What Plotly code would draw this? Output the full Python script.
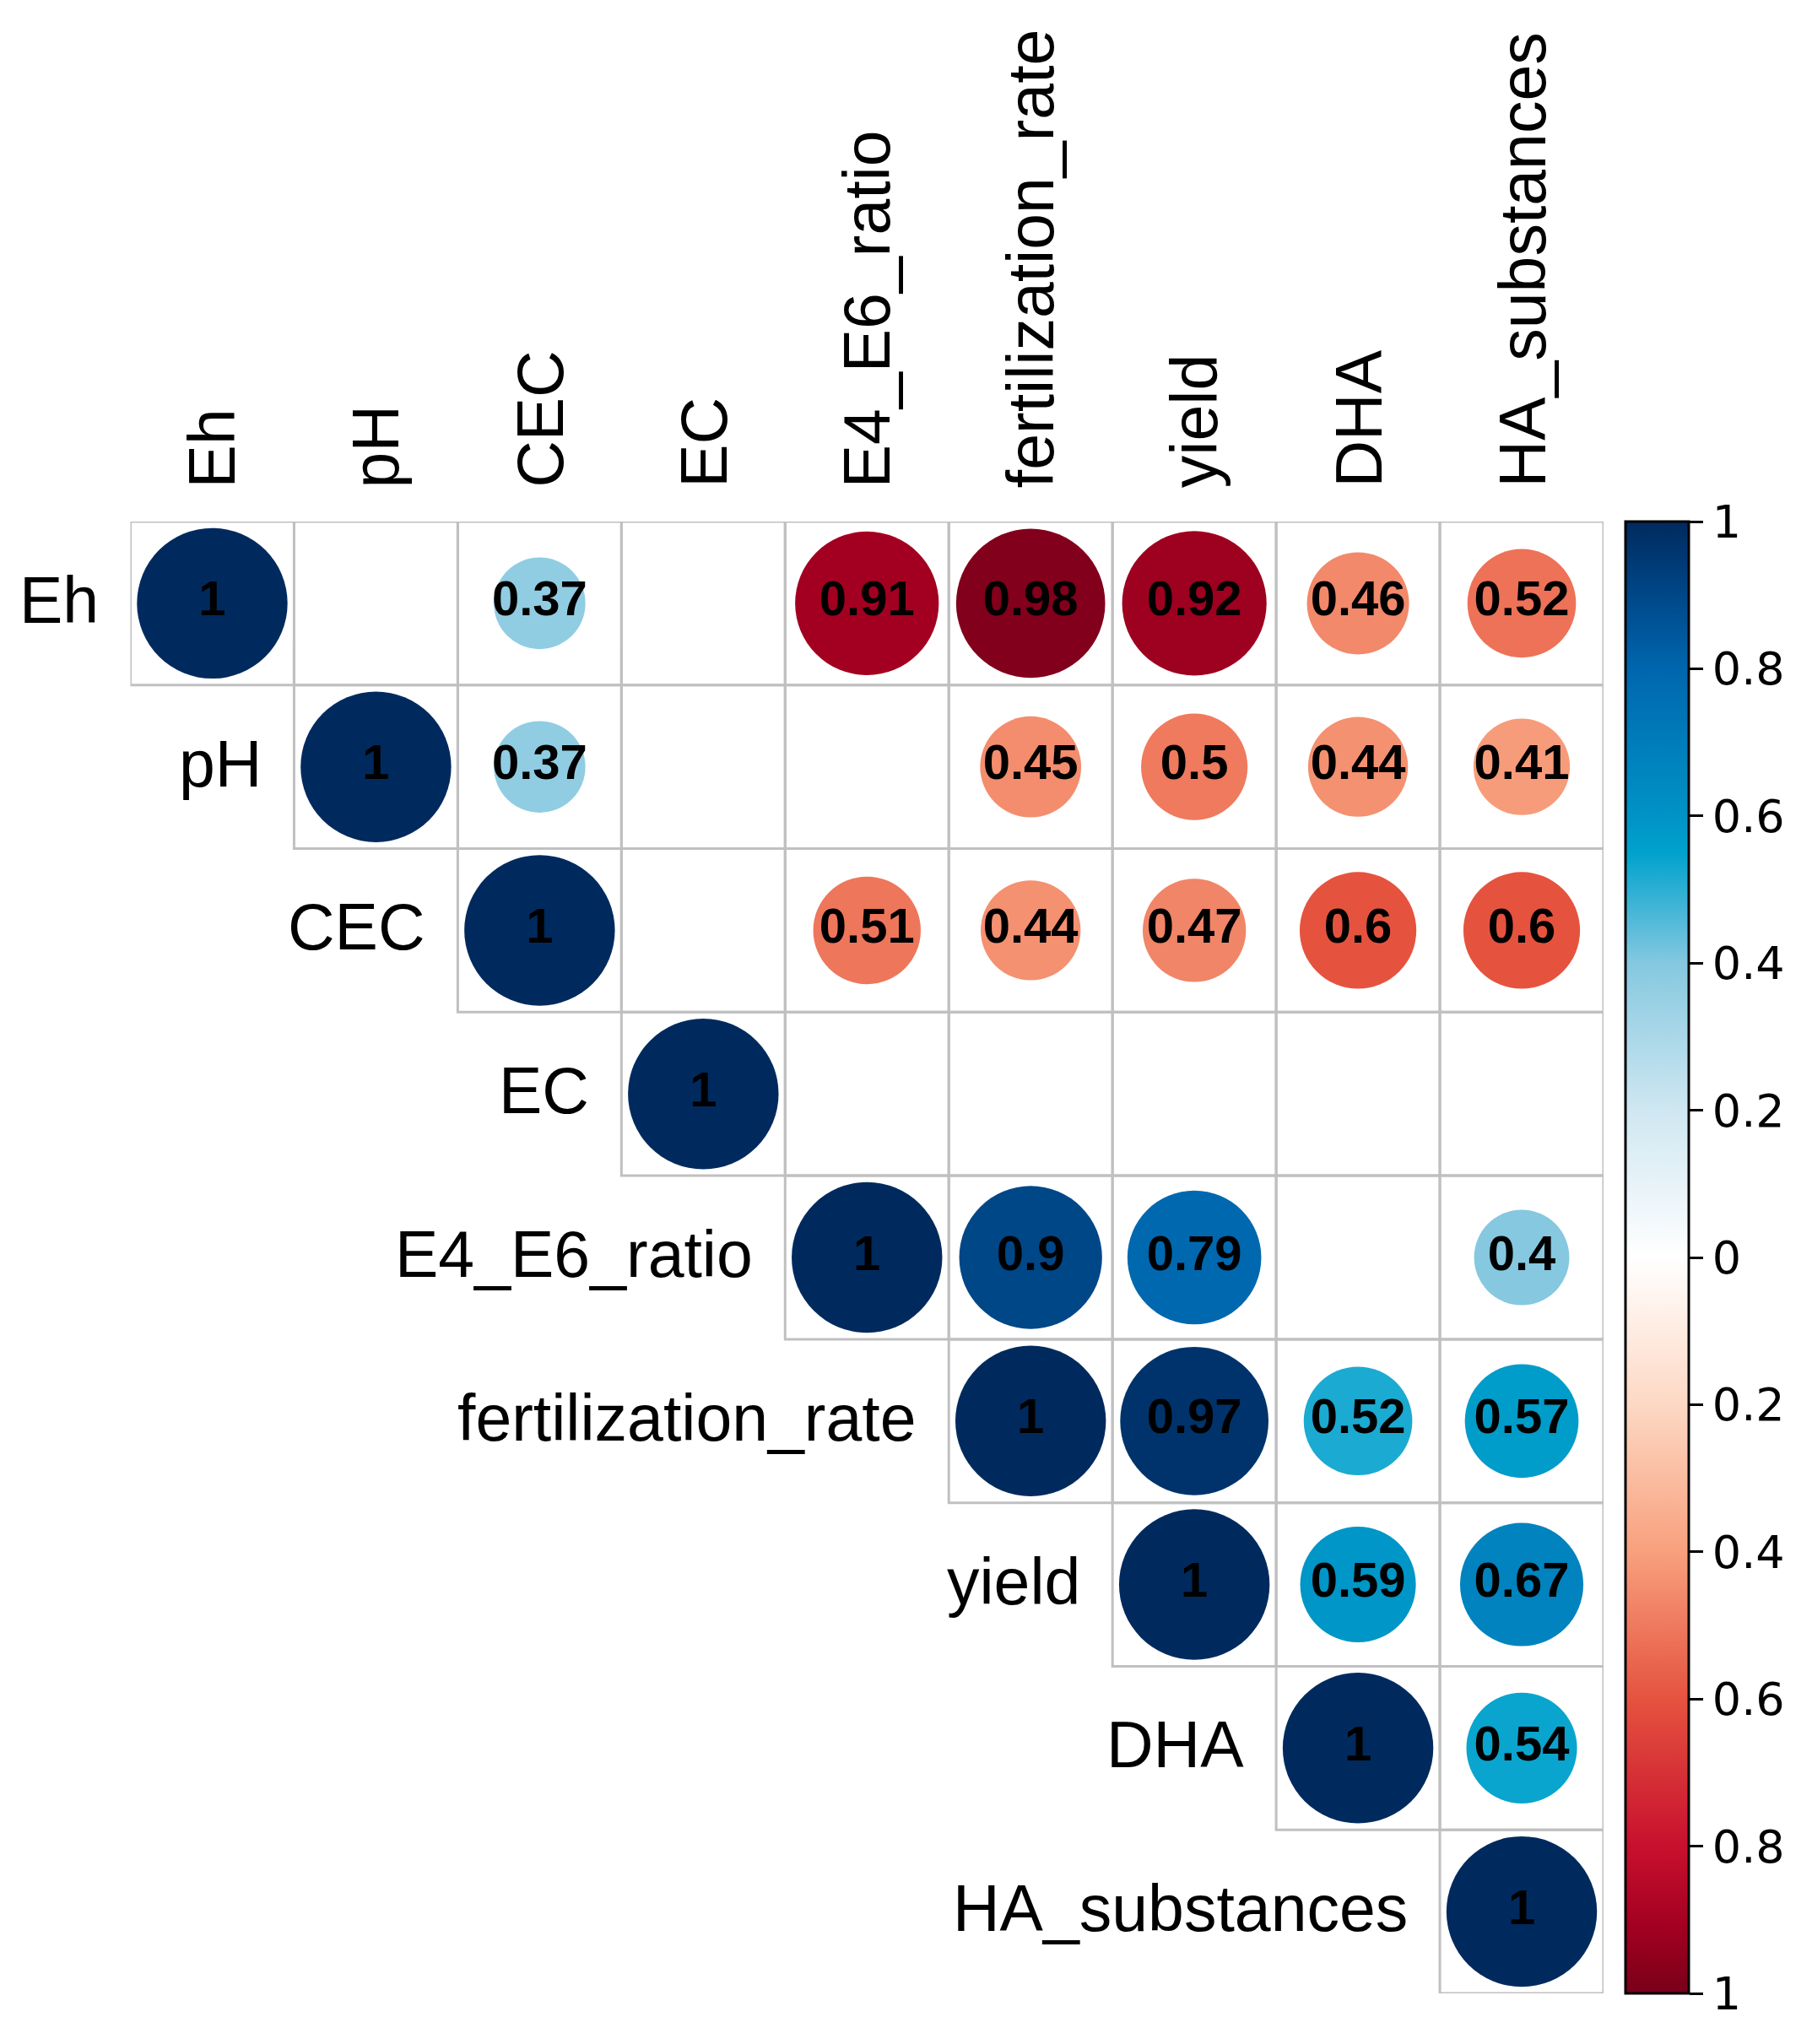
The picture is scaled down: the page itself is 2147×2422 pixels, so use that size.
import math
import plotly.graph_objects as go

# ---------------- data ----------------
variables = ["Eh", "pH", "CEC", "EC", "E4_E6_ratio", "fertilization_rate",
             "yield", "DHA", "HA_substances"]
N = None
# upper-triangle correlation matrix (None = not shown)
row_Eh   = [1, N, 0.37, N, -0.91, -0.98, -0.92, -0.46, -0.52]
row_pH   = [N, 1, 0.37, N, N, -0.45, -0.50, -0.44, -0.41]
row_CEC  = [N, N, 1, N, -0.51, -0.44, -0.47, -0.60, -0.60]
row_EC   = [N, N, N, 1, N, N, N, N, N]
row_E4   = [N, N, N, N, 1, 0.90, 0.79, N, 0.40]
row_fert = [N, N, N, N, N, 1, 0.97, 0.52, 0.57]
row_yld  = [N, N, N, N, N, N, 1, 0.59, 0.67]
row_DHA  = [N, N, N, N, N, N, N, 1, 0.54]
row_HA   = [N, N, N, N, N, N, N, N, 1]
corr = [row_Eh, row_pH, row_CEC, row_EC, row_E4, row_fert, row_yld, row_DHA, row_HA]

cbar_tickvals = [-1, -0.8, -0.6, -0.4, -0.2, 0, 0.2, 0.4, 0.6, 0.8, 1]
cbar_ticktext = ["1", "0.8", "0.6", "0.4", "0.2", "0", "0.2", "0.4", "0.6", "0.8", "1"]

# ---------------- style ----------------
W, H = 2147, 2422
OFF = 8  # page body margin
grid_left, grid_right = 154.5 - OFF, 1900.0 - OFF
grid_top, grid_bottom = 618.0 - OFF, 2362.0 - OFF
n = len(variables)
cell_px = (grid_right - grid_left) / n
max_diam = 0.92 * cell_px

colorscale = [
    [0.00, "#780019"],
    [0.045, "#a30021"],
    [0.10, "#c8102e"],
    [0.20, "#e5533f"],
    [0.30, "#f8a07d"],
    [0.40, "#fdd8c4"],
    [0.50, "#ffffff"],
    [0.60, "#cfe7f1"],
    [0.70, "#85c8e0"],
    [0.775, "#00a2cd"],
    [0.80, "#0093c6"],
    [0.90, "#0066ae"],
    [0.95, "#004788"],
    [1.00, "#002a5e"],
]

xs, ys, vals, sizes, texts = [], [], [], [], []
for i in range(n):
    for j in range(n):
        v = corr[i][j]
        if v is None:
            continue
        xs.append(j)
        ys.append(i)
        vals.append(v)
        sizes.append(max_diam * math.sqrt(abs(v)))
        texts.append(f"{abs(v):g}")

fig = go.Figure()

fig.add_trace(go.Scatter(
    x=xs, y=ys, mode="markers+text",
    text=texts,
    textposition="middle center",
    textfont=dict(family="Liberation Sans", size=58, color="black", weight="bold"),
    marker=dict(
        size=sizes, sizemode="diameter", opacity=1,
        color=vals, colorscale=colorscale, cmin=-1, cmax=1,
        line=dict(width=0),
        colorbar=dict(
            x=(1926 - OFF) / W, xanchor="left", xpad=0, ypad=0,
            y=1 - (grid_top + grid_bottom) / 2 / H, yanchor="middle",
            thickness=75, thicknessmode="pixels",
            len=grid_bottom - grid_top, lenmode="pixels",
            outlinecolor="black", outlinewidth=3,
            tickvals=cbar_tickvals, ticktext=cbar_ticktext,
            ticks="outside", ticklen=16, tickwidth=3, tickcolor="black",
            tickfont=dict(family="DejaVu Sans", size=54, color="black"),
        ),
    ),
    hoverinfo="skip", showlegend=False,
))

# grid cells (upper triangle)
shapes = []
for i in range(n):
    for j in range(i, n):
        shapes.append(dict(
            type="rect", xref="x", yref="y",
            x0=j - 0.5, x1=j + 0.5, y0=i - 0.5, y1=i + 0.5,
            line=dict(color="#c0c0c0", width=3), layer="below",
        ))

annotations = []
for i, name in enumerate(variables):
    # row labels
    annotations.append(dict(
        x=i - 0.5, y=i, xref="x", yref="y", text=name, showarrow=False,
        xanchor="right", yanchor="middle", xshift=-36, yshift=4,
        font=dict(family="Liberation Sans", size=77, color="black"),
    ))
    # column labels
    annotations.append(dict(
        x=i, y=-0.5, xref="x", yref="y", text=name, showarrow=False,
        xanchor="center", yanchor="bottom", yshift=38, textangle=-90,
        font=dict(family="Liberation Sans", size=77, color="black"),
    ))

fig.update_layout(
    width=W, height=H,
    margin=dict(l=0, r=0, t=0, b=0),
    paper_bgcolor="white", plot_bgcolor="white",
    shapes=shapes, annotations=annotations,
    xaxis=dict(range=[-0.5, n - 0.5], domain=[grid_left / W, grid_right / W],
               showgrid=False, zeroline=False, showticklabels=False, visible=False),
    yaxis=dict(range=[n - 0.5, -0.5], domain=[1 - grid_bottom / H, 1 - grid_top / H],
               showgrid=False, zeroline=False, showticklabels=False, visible=False),
)

fig.write_html("out.html")
